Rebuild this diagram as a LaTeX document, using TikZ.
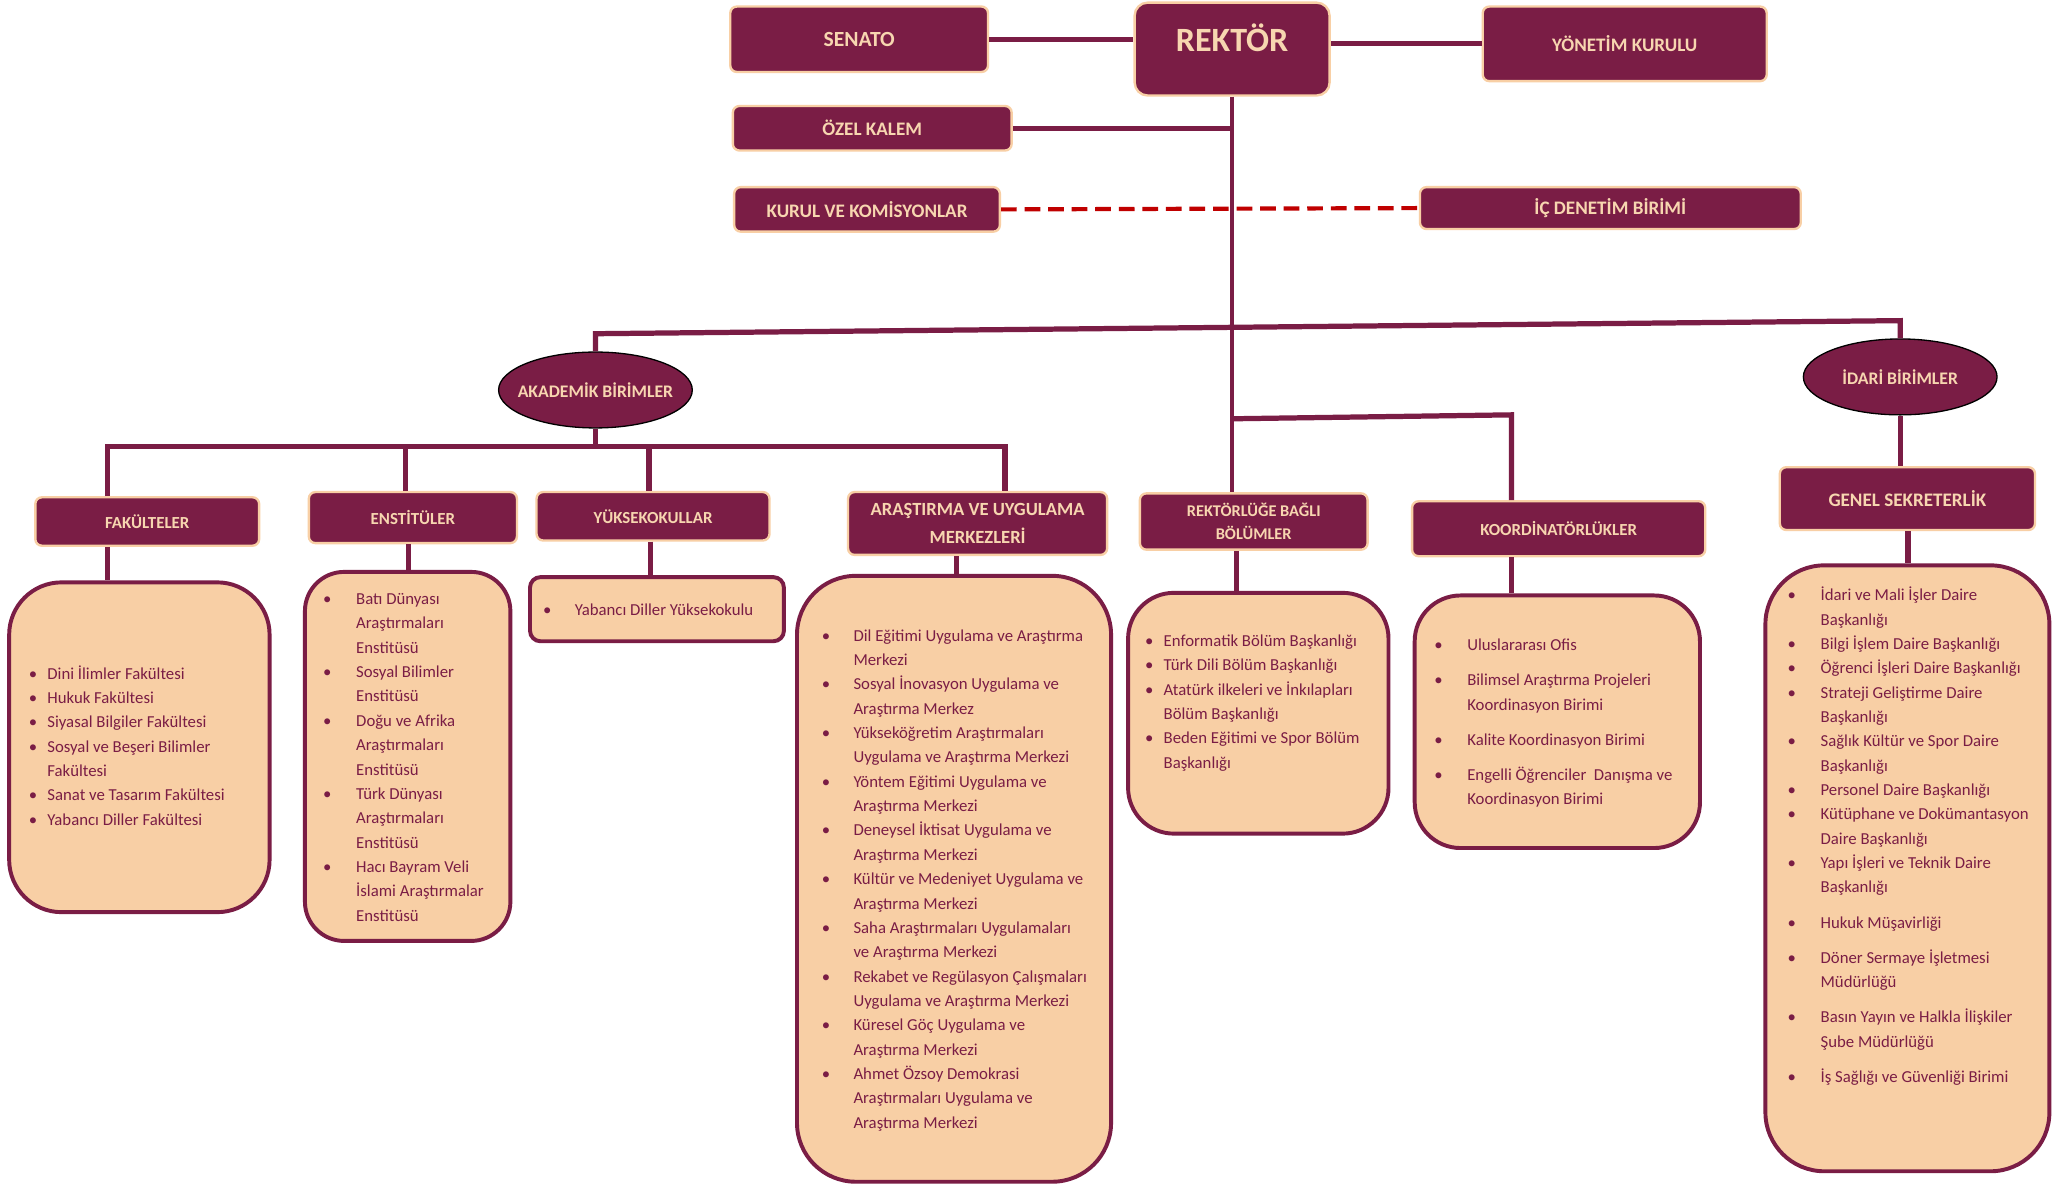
\documentclass[tikz,border=0pt]{standalone}
\usepackage{fontspec}
\setmainfont{Carlito}
\usetikzlibrary{shapes.geometric}
\definecolor{mrn}{HTML}{7A1D45}
\definecolor{pch}{HTML}{F8CFA5}
\definecolor{crm}{HTML}{F7D6B0}
\definecolor{dred}{HTML}{C00000}
\newcommand{\bu}{\textbullet}
\begin{document}
\begin{tikzpicture}[x=1pt,y=-1pt,
 tb/.style={rectangle, rounded corners=5pt, fill=mrn, draw=pch, line width=1.8pt, text=crm, align=center, inner sep=0pt},
 el/.style={ellipse, fill=mrn, draw=black, line width=1pt, text=crm, inner sep=0pt, font=\fontsize{13.5}{16}\selectfont\bfseries},
 cb/.style={rectangle, fill=pch, draw=mrn, line width=3pt},
 lst/.style={text=mrn, inner sep=0pt, anchor=base west, font=\fontsize{12.8}{18.6}\selectfont},
 conn/.style={draw=mrn, line width=4pt},
 dconn/.style={draw=dred, line width=3.2pt, dash pattern=on 12pt off 6pt},
 fA/.style={font=\fontsize{14.6}{17}\selectfont\bfseries},
 fB/.style={font=\fontsize{12.9}{15}\selectfont\bfseries}]
\fill[white] (0,0) rectangle (1568,905);
\useasboundingbox (0,0) rectangle (1568,905);

% top level boxes
\node[tb,minimum width=197pt,minimum height=50pt,font=\fontsize{16.5}{19}\selectfont\bfseries] (senato) at (656.5,30) {SENATO};
\node[tb,minimum width=149pt,minimum height=71pt,rounded corners=10pt,font=\fontsize{26}{30}\selectfont\bfseries] (rektor) at (941.5,37.5) {\smash{\raisebox{-2pt}{REKTÖR}}};
\node[tb,fA,minimum width=217pt,minimum height=57pt] (yonetim) at (1241.5,33.5) {YÖNETİM KURULU};
\node[tb,fA,minimum width=213pt,minimum height=34pt] (ozel) at (666.5,98) {ÖZEL KALEM};
\node[tb,fA,minimum width=203pt,minimum height=34pt] (kurul) at (662.5,160) {KURUL VE KOMİSYONLAR};
\node[tb,fA,minimum width=291pt,minimum height=32pt] (icden) at (1230.5,159) {İÇ DENETİM BİRİMİ};

% ellipses
\node[el,minimum width=148pt,minimum height=58pt] (akad) at (455,298) {\makebox[0pt]{AKADEMİK BİRİMLER}};
\node[el,minimum width=148pt,minimum height=58pt] (idari) at (1452,288) {\makebox[0pt]{İDARİ BİRİMLER}};

% second level boxes
\node[tb,fB,minimum width=171pt,minimum height=37pt] (fak) at (112.5,398.5) {FAKÜLTELER};
\node[tb,fB,minimum width=159pt,minimum height=39pt] (enst) at (315.5,395.5) {ENSTİTÜLER};
\node[tb,fB,minimum width=178pt,minimum height=37pt] (yuks) at (499,394.5) {YÜKSEKOKULLAR};
\node[tb,minimum width=198pt,minimum height=48pt,font=\fontsize{14.2}{21}\selectfont\bfseries] (aras) at (747,400) {ARAŞTIRMA VE UYGULAMA\\MERKEZLERİ};
\node[tb,minimum width=174pt,minimum height=43pt,font=\fontsize{12.5}{18}\selectfont\bfseries] (rbb) at (958,398.5) {REKTÖRLÜĞE BAĞLI\\BÖLÜMLER};
\node[tb,fB,minimum width=224pt,minimum height=42pt] (koord) at (1191,404) {KOORDİNATÖRLÜKLER};
\node[tb,fA,minimum width=195pt,minimum height=48pt] (genel) at (1457.5,381) {GENEL SEKRETERLİK};

% content boxes
\node[cb,rounded corners=40pt,minimum width=199pt,minimum height=252pt] (cfak) at (106.5,571) {};
\node[cb,rounded corners=30pt,minimum width=157pt,minimum height=282pt] (censt) at (311.5,578) {};
\node[cb,rounded corners=8pt,minimum width=194pt,minimum height=49pt] (cyuks) at (502,465.5) {};
\node[cb,rounded corners=45pt,minimum width=240pt,minimum height=463pt] (caras) at (729,671.5) {};
\node[cb,rounded corners=35pt,minimum width=199pt,minimum height=184pt] (crbb) at (961.5,545) {};
\node[cb,rounded corners=35pt,minimum width=218pt,minimum height=193pt] (ckoord) at (1190,551.5) {};
\node[cb,rounded corners=45pt,minimum width=217pt,minimum height=463pt] (cgenel) at (1457.5,663.5) {};

% lists
\node[lst] (lfak) at (21.8,519) {\begin{tabular}[t]{@{}p{14.2pt}@{}l@{}}
\bu & Dini İlimler Fakültesi\\
\bu & Hukuk Fakültesi\\
\bu & Siyasal Bilgiler Fakültesi\\
\bu & Sosyal ve Beşeri Bilimler\\
 & Fakültesi\\
\bu & Sanat ve Tasarım Fakültesi\\
\bu & Yabancı Diller Fakültesi
\end{tabular}};
\node[lst] (lenst) at (246.8,462) {\begin{tabular}[t]{@{}p{25.2pt}@{}l@{}}
\bu & Batı Dünyası\\
 & Araştırmaları\\
 & Enstitüsü\\
\bu & Sosyal Bilimler\\
 & Enstitüsü\\
\bu & Doğu ve Afrika\\
 & Araştırmaları\\
 & Enstitüsü\\
\bu & Türk Dünyası\\
 & Araştırmaları\\
 & Enstitüsü\\
\bu & Hacı Bayram Veli\\
 & İslami Araştırmalar\\
 & Enstitüsü
\end{tabular}};
\node[lst] (lyuks) at (414.8,470) {\begin{tabular}[t]{@{}p{24.2pt}@{}l@{}}
\bu & Yabancı Diller Yüksekokulu
\end{tabular}};
\node[lst] (laras) at (627.8,490) {\begin{tabular}[t]{@{}p{24.2pt}@{}l@{}}
\bu & Dil Eğitimi Uygulama ve Araştırma\\
 & Merkezi\\
\bu & Sosyal İnovasyon Uygulama ve\\
 & Araştırma Merkez\\
\bu & Yükseköğretim Araştırmaları\\
 & Uygulama ve Araştırma Merkezi\\
\bu & Yöntem Eğitimi Uygulama ve\\
 & Araştırma Merkezi\\
\bu & Deneysel İktisat Uygulama ve\\
 & Araştırma Merkezi\\
\bu & Kültür ve Medeniyet Uygulama ve\\
 & Araştırma Merkezi\\
\bu & Saha Araştırmaları Uygulamaları\\
 & ve Araştırma Merkezi\\
\bu & Rekabet ve Regülasyon Çalışmaları\\
 & Uygulama ve Araştırma Merkezi\\
\bu & Küresel Göç Uygulama ve\\
 & Araştırma Merkezi\\
\bu & Ahmet Özsoy Demokrasi\\
 & Araştırmaları Uygulama ve\\
 & Araştırma Merkezi
\end{tabular}};
\node[lst] (lrbb) at (874.8,494) {\begin{tabular}[t]{@{}p{14.2pt}@{}l@{}}
\bu & Enformatik Bölüm Başkanlığı\\
\bu & Türk Dili Bölüm Başkanlığı\\
\bu & Atatürk ilkeleri ve İnkılapları\\
 & Bölüm Başkanlığı\\
\bu & Beden Eğitimi ve Spor Bölüm\\
 & Başkanlığı
\end{tabular}};
\node[lst] (lkoord) at (1095.8,497) {\begin{tabular}[t]{@{}p{25.2pt}@{}l@{}}
\bu & Uluslararası Ofis\\[8.5pt]
\bu & Bilimsel Araştırma Projeleri\\
 & Koordinasyon Birimi\\[8pt]
\bu & Kalite Koordinasyon Birimi\\[8.5pt]
\bu & Engelli Öğrenciler\ \ Danışma ve\\
 & Koordinasyon Birimi
\end{tabular}};
\node[lst] (lgenel) at (1365.8,459) {\begin{tabular}[t]{@{}p{25.2pt}@{}l@{}}
\bu & İdari ve Mali İşler Daire\\
 & Başkanlığı\\
\bu & Bilgi İşlem Daire Başkanlığı\\
\bu & Öğrenci İşleri Daire Başkanlığı\\
\bu & Strateji Geliştirme Daire\\
 & Başkanlığı\\
\bu & Sağlık Kültür ve Spor Daire\\
 & Başkanlığı\\
\bu & Personel Daire Başkanlığı\\
\bu & Kütüphane ve Dokümantasyon\\
 & Daire Başkanlığı\\
\bu & Yapı İşleri ve Teknik Daire\\
 & Başkanlığı\\[8.5pt]
\bu & Hukuk Müşavirliği\\[8pt]
\bu & Döner Sermaye İşletmesi\\
 & Müdürlüğü\\[8.5pt]
\bu & Basın Yayın ve Halkla İlişkiler\\
 & Şube Müdürlüğü\\[8.5pt]
\bu & İş Sağlığı ve Güvenliği Birimi
\end{tabular}};

% connectors
\coordinate (jA) at (455,255);
\coordinate (jI) at (1452,245);
\draw[conn] (akad.north) -- (jA) -- (jI) -- (idari.north);
\draw[conn] (senato.east) -- (senato.east -| rektor.west);
\draw[conn] (yonetim.west) -- (yonetim.west -| rektor.east);
\draw[conn] (ozel.east) -- (ozel.east -| rektor.south);
\draw[conn,line width=3.5pt] (rektor.south) -- (rektor.south |- rbb.north);
\draw[dconn] (kurul.east) -- (icden.west);

\coordinate (jL) at (82,341);
\coordinate (jR) at (768,341);
\coordinate (bE) at (310,341);
\coordinate (bY) at (496,341);
\draw[conn] (akad.south) -- (akad.south |- jL);
\draw[conn] (jL |- fak.north) -- (jL) -- (jR) -- (jR |- aras.north);
\draw[conn] (bE) -- (bE |- enst.north);
\draw[conn] (bY) -- (bY |- yuks.north);

\coordinate (bK0) at (941.5,320);
\coordinate (bK1) at (1155,317);
\draw[conn] (bK0) -- (bK1) -- (bK1 |- koord.north);
\draw[conn] (idari.south) -- (idari.south |- genel.north);

\coordinate (xF) at (82,0);
\coordinate (xE) at (312,0);
\coordinate (xY) at (497,0);
\coordinate (xA) at (731,0);
\coordinate (xR) at (945,0);
\coordinate (xK) at (1155,0);
\coordinate (xG) at (1458,0);
\draw[conn] (xF |- fak.south) -- (xF |- cfak.north);
\draw[conn] (xE |- enst.south) -- (xE |- censt.north);
\draw[conn] (xY |- yuks.south) -- (xY |- cyuks.north);
\draw[conn] (xA |- aras.south) -- (xA |- caras.north);
\draw[conn] (xR |- rbb.south) -- (xR |- crbb.north);
\draw[conn] (xK |- koord.south) -- (xK |- ckoord.north);
\draw[conn] (xG |- genel.south) -- (xG |- cgenel.north);
\end{tikzpicture}
\end{document}
